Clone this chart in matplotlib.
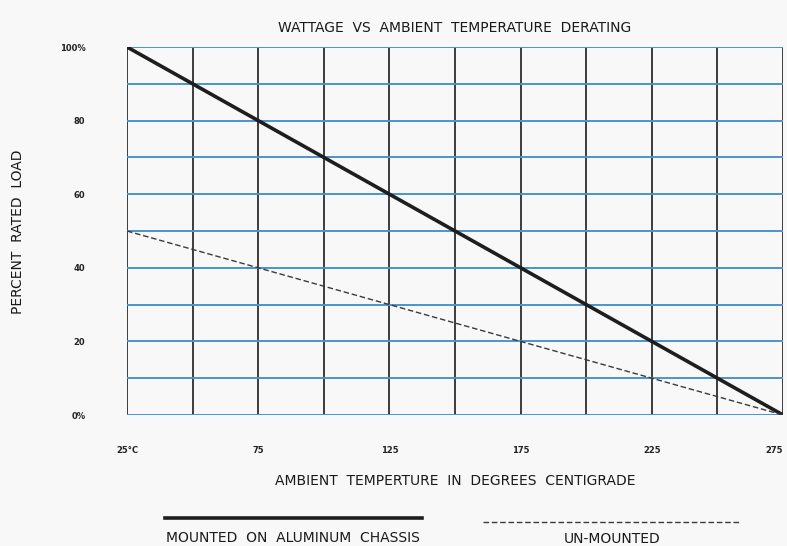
import matplotlib
matplotlib.use("Agg")
import matplotlib.pyplot as plt
from matplotlib.lines import Line2D
from matplotlib import font_manager

# ---- data ----
temps = [25, 275]
mounted_load = [100, 0]
unmounted_load = [50, 0]
x_ticks = [25, 75, 125, 175, 225, 275]
x_tick_labels = ["25°C", "75", "125", "175", "225", "275"]
y_ticks = [0, 20, 40, 60, 80, 100]
y_tick_labels = ["0%", "20", "40", "60", "80", "100%"]
x_grid = list(range(25, 276, 25))
y_grid = list(range(0, 101, 10))

names = {f.name for f in font_manager.fontManager.ttflist}
fam = "DejaVu Sans"
for cand in ["DejaVu Sans Condensed", "Liberation Sans Narrow"]:
    if cand in names:
        fam = cand
        break
plt.rcParams["font.family"] = [fam, "DejaVu Sans"]

fig = plt.figure(figsize=(7.87, 5.46), dpi=100)
fig.patch.set_facecolor("#f8f8f8")
ax = fig.add_axes([0.1614, 0.2399, 0.995 - 0.1614, 0.9139 - 0.2399])
ax.set_facecolor("#f8f8f8")
ax.set_xlim(25, 275)
ax.set_ylim(0, 100)

for x in x_grid:
    ax.axvline(x, color="#2e2e2e", lw=1.3, zorder=1)
for y in y_grid:
    ax.axhline(y, color="#4b93cf", lw=1.4, zorder=1)

ax.plot(temps, mounted_load, color="#1e1e1e", lw=2.6, zorder=3, solid_capstyle="butt")
ax.plot(temps, unmounted_load, color="#3a3a3a", lw=1.0, ls=(0, (4, 2)), zorder=3)

for s in ax.spines.values():
    s.set_visible(False)

ax.set_xticks(x_ticks)
ax.set_xticklabels(x_tick_labels)
ax.set_yticks(y_ticks)
ax.set_yticklabels(y_tick_labels)
ax.tick_params(length=0, labelsize=6, colors="#222222", pad=22)
ax.tick_params(axis="y", pad=30)
for lab in ax.get_xticklabels() + ax.get_yticklabels():
    lab.set_fontweight("bold")
ax.get_xticklabels()[-1].set_horizontalalignment("right")

tfs = 10
fig.text(0.578, 0.948, "WATTAGE  VS  AMBIENT  TEMPERATURE  DERATING",
         ha="center", va="center", fontsize=tfs, color="#1a1a1a")
fig.text(0.578, 0.119, "AMBIENT  TEMPERTURE  IN  DEGREES  CENTIGRADE",
         ha="center", va="center", fontsize=tfs, color="#1a1a1a")
fig.text(0.023, 0.575, "PERCENT  RATED  LOAD", rotation=90,
         ha="center", va="center", fontsize=tfs, color="#1a1a1a")

# legend keys
fig.add_artist(Line2D([165 / 787, 422 / 787], [1 - 518 / 546] * 2,
                      color="#1e1e1e", lw=2.6, transform=fig.transFigure))
fig.add_artist(Line2D([483 / 787, 740 / 787], [1 - 522 / 546] * 2,
                      color="#3a3a3a", lw=1.0, ls=(0, (4, 2)), transform=fig.transFigure))
fig.text(293 / 787, 1 - 538 / 546, "MOUNTED  ON  ALUMINUM  CHASSIS",
         ha="center", va="center", fontsize=tfs, color="#1a1a1a")
fig.text(612 / 787, 1 - 539 / 546, "UN-MOUNTED",
         ha="center", va="center", fontsize=tfs, color="#1a1a1a")

fig.savefig("out.png", dpi=100, facecolor=fig.get_facecolor())
